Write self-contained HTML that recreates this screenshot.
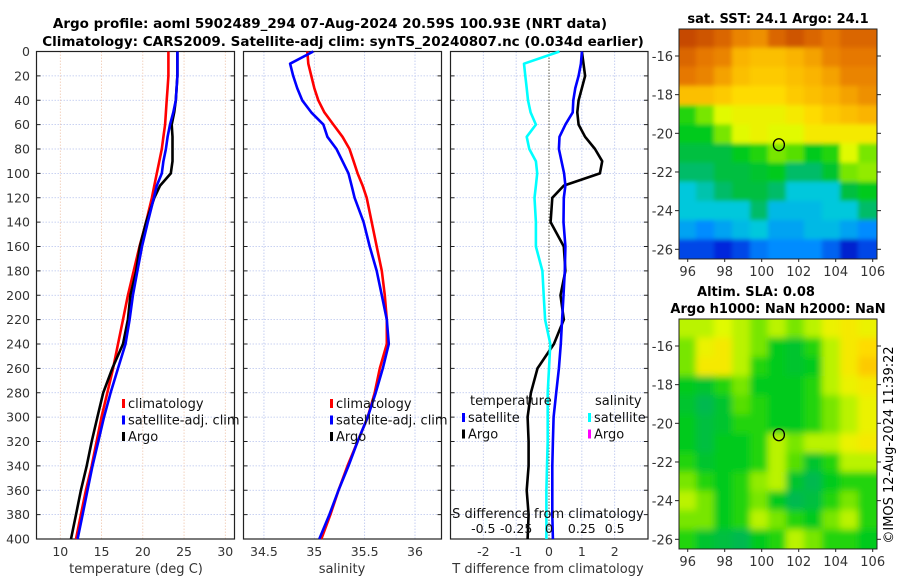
<!DOCTYPE html>
<html><head><meta charset="utf-8"><style>
body{margin:0;background:#fff}
svg{display:block;font-family:"DejaVu Sans","Liberation Sans",sans-serif}
</style></head><body>
<svg id="s" width="900" height="580" viewBox="0 0 900 580" xmlns="http://www.w3.org/2000/svg">
<defs>
<filter id="bl1" filterUnits="userSpaceOnUse" x="660" y="10" width="240" height="270"><feGaussianBlur stdDeviation="2.2"/></filter>
<filter id="bl2" filterUnits="userSpaceOnUse" x="660" y="300" width="240" height="270"><feGaussianBlur stdDeviation="3.5"/></filter>
<clipPath id="c1"><rect x="679" y="29" width="198" height="229.5"/></clipPath>
<clipPath id="c2"><rect x="679" y="319" width="198" height="230"/></clipPath>
</defs>
<text x="330" y="28" font-size="13.5" font-weight="bold" text-anchor="middle">Argo profile: aoml 5902489_294 07-Aug-2024 20.59S 100.93E (NRT data)</text>
<text x="343" y="46" font-size="13.5" font-weight="bold" text-anchor="middle">Climatology: CARS2009. Satellite-adj clim: synTS_20240807.nc (0.034d earlier)</text>
<text x="778" y="23" font-size="13" font-weight="bold" text-anchor="middle">sat. SST: 24.1 Argo: 24.1</text>
<text x="756" y="296" font-size="13" font-weight="bold" text-anchor="middle">Altim. SLA: 0.08</text>
<text x="778" y="313" font-size="13" font-weight="bold" text-anchor="middle">Argo h1000: NaN h2000: NaN</text>
<text transform="translate(893,445) rotate(-90)" font-size="13" text-anchor="middle">©IMOS 12-Aug-2024 11:39:22</text>
<g id="g"></g>
</svg>
<script>
const depths=[0,10,20,30,40,50,60,70,80,90,100,110,120,140,160,180,200,220,240,260,280,300,320,340,360,380,400];
const tClim=[23.1,23.1,23.1,23.0,22.9,22.8,22.7,22.5,22.3,22.0,21.7,21.4,21.1,20.4,19.6,18.9,18.2,17.6,17.0,16.4,15.7,15.0,14.4,13.8,13.1,12.5,11.9];
const tSat=[24.2,24.2,24.2,24.1,24.0,23.7,23.3,23.0,22.8,22.5,22.3,21.7,21.35,20.6,19.9,19.35,18.8,18.4,17.9,17.0,16.1,15.3,14.6,13.9,13.3,12.7,12.1];
const tArgo=[24.2,24.2,24.2,24.1,24.0,23.8,23.5,23.6,23.6,23.6,23.4,22.1,21.4,20.4,19.65,19.2,18.5,18.2,17.6,16.3,15.2,14.5,13.8,13.2,12.5,11.9,11.3];
const sClim=[34.93,34.94,34.97,35.0,35.04,35.1,35.19,35.28,35.35,35.39,35.43,35.48,35.52,35.57,35.62,35.67,35.7,35.72,35.72,35.65,35.6,35.53,35.43,35.33,35.24,35.16,35.07];
const sSat=[34.99,34.76,34.79,34.83,34.88,34.97,35.09,35.13,35.22,35.28,35.34,35.37,35.40,35.49,35.55,35.62,35.67,35.72,35.74,35.68,35.61,35.53,35.43,35.34,35.24,35.15,35.05];
const tSatDiff=[1.0,0.97,0.9,0.8,0.74,0.72,0.5,0.32,0.3,0.38,0.46,0.5,0.45,0.44,0.5,0.48,0.44,0.4,0.36,0.3,0.22,0.14,0.12,0.1,0.1,0.1,0.12];
const tArgoDiff=[1.0,1.05,1.1,1.0,0.9,0.86,0.9,1.1,1.4,1.62,1.55,0.45,0.1,0.05,0.45,0.5,0.35,0.45,0.15,-0.35,-0.55,-0.65,-0.62,-0.62,-0.68,-0.62,-0.65];
const sSatDiff=[0.08,-0.19,-0.18,-0.17,-0.16,-0.14,-0.1,-0.17,-0.15,-0.1,-0.09,-0.1,-0.11,-0.1,-0.1,-0.05,-0.04,-0.03,0.01,0.0,-0.01,-0.01,-0.01,-0.015,-0.02,-0.02,-0.02];
const depthTicks=[0,20,40,60,80,100,120,140,160,180,200,220,240,260,280,300,320,340,360,380,400];
const tTicks=[10,15,20,25,30];
const sTicks=[34.5,35,35.5,36];
const dTicks=[-2,-1,0,1,2];
const sdTicks=[-0.5,-0.25,0,0.25,0.5];
const sdTickLabels=["-0.5","-0.25","0","0.25","0.5"];
const lonTicks=[96,98,100,102,104,106];
const latTicks=[-16,-18,-20,-22,-24,-26];
const sstGrid=[
[.9,.88,.85,.8,.78,.85,.88,.85,.82,.85,.85],
[.85,.82,.8,.72,.7,.7,.72,.75,.8,.82,.82],
[.82,.8,.75,.7,.68,.68,.7,.72,.75,.8,.8],
[.7,.7,.68,.65,.65,.65,.68,.7,.72,.75,.78],
[.45,.5,.58,.6,.6,.6,.62,.65,.68,.7,.72],
[.42,.42,.5,.58,.6,.58,.58,.62,.62,.62,.62],
[.38,.38,.38,.42,.45,.5,.48,.42,.45,.58,.5],
[.35,.35,.38,.38,.4,.42,.35,.35,.4,.5,.52],
[.3,.32,.35,.38,.38,.35,.3,.3,.3,.38,.42],
[.3,.3,.3,.3,.35,.28,.28,.28,.3,.3,.35],
[.25,.22,.25,.28,.3,.25,.25,.28,.28,.25,.22],
[.15,.15,.12,.15,.2,.22,.22,.22,.18,.1,.15]];
const slaGrid=[
[.55,.55,.58,.55,.5,.55,.5,.55,.6,.62,.6],
[.5,.6,.62,.55,.5,.42,.4,.45,.55,.62,.65],
[.5,.62,.62,.55,.45,.42,.4,.42,.55,.62,.68],
[.42,.4,.45,.5,.42,.42,.42,.45,.55,.6,.62],
[.4,.36,.4,.48,.45,.42,.42,.45,.5,.55,.6],
[.42,.38,.4,.45,.45,.42,.42,.45,.5,.55,.6],
[.42,.38,.42,.42,.45,.55,.5,.55,.55,.6,.62],
[.45,.4,.42,.42,.45,.55,.48,.4,.45,.55,.55],
[.5,.45,.42,.45,.52,.55,.4,.36,.42,.45,.45],
[.55,.5,.42,.45,.5,.42,.36,.38,.45,.5,.45],
[.5,.5,.42,.45,.55,.5,.45,.42,.5,.55,.45],
[.45,.4,.38,.36,.42,.45,.55,.5,.45,.45,.42]];
const argoLon=100.93, argoLat=-20.59;

const NS="http://www.w3.org/2000/svg";
const G=document.getElementById('g');
function mk(tag,attrs,parent){const e=document.createElementNS(NS,tag);for(const k in attrs)e.setAttribute(k,attrs[k]);(parent||G).appendChild(e);return e;}
const Y0=51.5,Y1=539;
const yD=d=>Y0+(d/400)*(Y1-Y0);
function lin(d0,d1,r0,r1){return v=>r0+(v-d0)/(d1-d0)*(r1-r0);}
const xT=lin(10,30,60.3,225.3), xS=lin(35,36,314.3,415), xD=lin(0,2,549,614.7), xSD=lin(0,0.5,549,614.7);
const panels=[{x0:36.5,x1:234.5,name:'temperature-panel'},{x0:243.5,x1:441.5,name:'salinity-panel'},{x0:450.5,x1:648,name:'difference-panel'}];

function panelFrame(p,vt,xf,col){
  const g=mk('g',{});
  
  
  depthTicks.forEach(d=>{const l=mk('line',{x1:p.x0,x2:p.x1,y1:yD(d),y2:yD(d),stroke:'#b8c4ee','stroke-width':0.8,'stroke-dasharray':'1.5,1.5'},g);
    
    mk('line',{x1:p.x0,x2:p.x0+4,y1:yD(d),y2:yD(d),stroke:'#222'},g);mk('line',{x1:p.x1-4,x2:p.x1,y1:yD(d),y2:yD(d),stroke:'#222'},g);});
  vt.forEach(v=>{const l=mk('line',{x1:xf(v),x2:xf(v),y1:Y0,y2:Y1,stroke:col,'stroke-width':0.8,'stroke-dasharray':'1.5,1.5'},g);
    });
  const r=mk('rect',{x:p.x0,y:Y0,width:p.x1-p.x0,height:Y1-Y0,fill:'none',stroke:'#222','stroke-width':1.2},g);
  
  return g;
}
function line(xs,vals,xf,color,name,g,w){
  const pts=vals.map((v,i)=>xf(v).toFixed(1)+','+yD(xs[i]).toFixed(1)).join(' ');
  const e=mk('polyline',{points:pts,fill:'none',stroke:color,'stroke-width':w||2.6,'stroke-linejoin':'round'},g);
  
}
function txt(x,y,s,attrs,name,g){const e=mk('text',Object.assign({x:x,y:y,'font-size':12.5,fill:'#333'},attrs||{}),g);e.textContent=s;return e;}

depthTicks.forEach(d=>txt(30,yD(d)+4.5,String(d),{'text-anchor':'end'},'depth-tick-label'));

const g1=panelFrame(panels[0],tTicks,xT,'#f0c8b0');
line(depths,tClim,xT,'#ff0000','temperature-climatology-line',g1);
line(depths,tArgo,xT,'#000000','temperature-argo-line',g1);
line(depths,tSat,xT,'#0000ff','temperature-satellite-line',g1);
tTicks.forEach(v=>txt(xT(v),556,String(v),{'text-anchor':'middle'},'temperature-tick-label'));
txt(136,573,'temperature (deg C)',{'text-anchor':'middle','font-size':13},'temperature-axis-title');

const g2=panelFrame(panels[1],sTicks,xS,'#b8c4ee');
line(depths,sClim,xS,'#ff0000','salinity-climatology-line',g2);
line(depths,sSat,xS,'#0000ff','salinity-satellite-line',g2);
sTicks.forEach(v=>txt(xS(v),556,String(v),{'text-anchor':'middle'},'salinity-tick-label'));
txt(342,573,'salinity',{'text-anchor':'middle','font-size':13},'salinity-axis-title');

function legend(x,y,items,name){
  const g=mk('g',{});
  items.forEach((it,i)=>{const yy=y+i*16.5;
    const m=mk('rect',{x:x,y:yy-8,width:3,height:9,fill:it[1]},g);
    txt(x+6,yy+1,it[0],{'font-size':13,fill:'#111'},'legend-entry',g);});
}
legend(122,407,[['climatology','#ff0000'],['satellite-adj. clim','#0000ff'],['Argo','#000']],'temperature-legend');
legend(330,407,[['climatology','#ff0000'],['satellite-adj. clim','#0000ff'],['Argo','#000']],'salinity-legend');

const g3=panelFrame(panels[2],dTicks,xD,'#b8c4ee');
const z=mk('line',{x1:xD(0),x2:xD(0),y1:Y0,y2:Y1,stroke:'#554',"stroke-width":1,'stroke-dasharray':'1.5,1.5'},g3);

line(depths,tArgoDiff,xD,'#000000','argo-temperature-difference-line',g3);
line(depths,tSatDiff,xD,'#0000ff','satellite-temperature-difference-line',g3);
line(depths,sSatDiff,xSD,'#00ffff','satellite-salinity-difference-line',g3);
dTicks.forEach(v=>txt(xD(v),556,String(v),{'text-anchor':'middle'},'t-difference-tick-label'));
txt(548,573,'T difference from climatology',{'text-anchor':'middle','font-size':13},'t-difference-axis-title');
sdTicks.forEach((v,i)=>txt(xSD(v),533,sdTickLabels[i],{'text-anchor':'middle','fill':'#111'},'s-difference-tick-label'));
txt(548,518,'S difference from climatology',{'text-anchor':'middle','font-size':13,fill:'#111'},'s-difference-axis-title');
txt(470,405,'temperature',{'font-size':13,fill:'#111'},'legend-temperature-heading');
txt(595,405,'salinity',{'font-size':13,fill:'#111'},'legend-salinity-heading');
legend(462,421,[['satellite','#0000ff'],['Argo','#000']],'t-difference-legend');
legend(588,421,[['satellite','#00ffff'],['Argo','#ff00ff']],'s-difference-legend');

const stops=[[0,[0,0,140]],[.12,[0,40,220]],[.22,[0,140,255]],[.3,[0,200,220]],[.36,[0,185,80]],[.43,[0,205,20]],[.5,[120,230,0]],[.58,[225,250,0]],[.64,[255,225,0]],[.72,[250,180,0]],[.82,[230,120,0]],[.92,[190,60,0]],[1,[150,20,0]]];
function cmap(v){for(let i=1;i<stops.length;i++){if(v<=stops[i][0]){const a=stops[i-1],b=stops[i],t=(v-a[0])/(b[0]-a[0]);return 'rgb('+a[1].map((c,k)=>Math.round(c+(b[1][k]-c)*t)).join(',')+')';}}return 'rgb(150,20,0)';}
const xLon=lin(96,106,687.7,872.7);
function drawMap(grid,top,yLat,clip,filt,name){
  const g=mk('g',{});
  const hg=mk('g',{'clip-path':'url(#'+clip+')'},g);
  const inner=mk('g',{filter:'url(#'+filt+')'},hg);
  const lon0=95.5,lon1=106.2,lat0=-14.6,lat1=-26.5;
  const nr=grid.length,nc=grid[0].length;
  grid.forEach((row,r)=>row.forEach((v,c)=>{
    const la=lat0+(lat1-lat0)*r/nr, lb=lat0+(lat1-lat0)*(r+1)/nr;
    const lo=lon0+(lon1-lon0)*c/nc, lp=lon0+(lon1-lon0)*(c+1)/nc;
    let x0=xLon(lo)-0.5,x1=xLon(lp)+0.5,y0=yLat(la)-0.5,y1=yLat(lb)+0.5;
    if(c===0)x0-=10; if(c===nc-1)x1+=10; if(r===0)y0-=10; if(r===nr-1)y1+=10;
    const e=mk('rect',{x:x0,y:y0,width:x1-x0,height:y1-y0,fill:cmap(v)},inner);
    }));
  const f=mk('rect',{x:679,y:top,width:198,height:yLat(-26.5)-top,fill:'none',stroke:'#222','stroke-width':1},g);
  
  lonTicks.forEach(v=>{mk('line',{x1:xLon(v),x2:xLon(v),y1:yLat(-26.5),y2:yLat(-26.5)+3,stroke:'#222'},g);
    txt(xLon(v),yLat(-26.5)+17,String(v),{'text-anchor':'middle','font-size':13},'longitude-tick-label',g);});
  latTicks.forEach(v=>{mk('line',{x1:675,x2:679,y1:yLat(v),y2:yLat(v),stroke:'#222'},g);mk('line',{x1:877,x2:881,y1:yLat(v),y2:yLat(v),stroke:'#222'},g);
    txt(673,yLat(v)+5,String(v),{'text-anchor':'end','font-size':13},'latitude-tick-label',g);});
  const m=mk('ellipse',{cx:xLon(argoLon),cy:yLat(argoLat),rx:5.5,ry:6,fill:'none',stroke:'#000','stroke-width':1.3},g);
  
}
drawMap(sstGrid,29,lin(-16,-26,56,249.3),'c1','bl1','sst-map');
drawMap(slaGrid,319,lin(-16,-26,346,539.3),'c2','bl2','sla-map');
</script>
</body></html>
